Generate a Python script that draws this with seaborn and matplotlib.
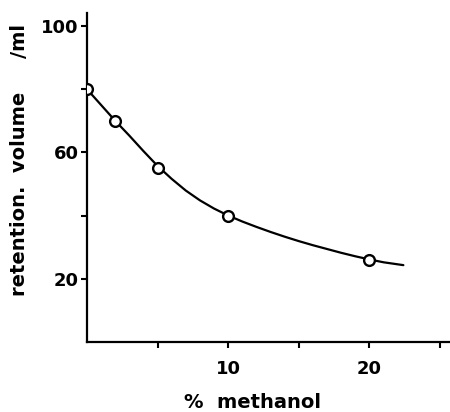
import matplotlib
matplotlib.use("Agg")
import matplotlib.pyplot as plt
import seaborn as sns
import pandas as pd

# measured points
methanol_pct = [0, 2, 5, 10, 20]
retention_ml = [80, 70, 55, 40, 26]

# fitted curve
curve_x = [0, 1, 2, 3, 4, 5, 6, 7, 8, 9, 10, 11, 12, 13, 14, 15, 16, 17, 18, 19, 20, 21, 22.4]
curve_y = [80, 75, 70, 65.3, 60.4, 55.7, 51.6, 47.9, 44.8, 42.2, 40, 38.1, 36.4, 34.8, 33.3,
           31.9, 30.6, 29.4, 28.2, 27.1, 26.1, 25.2, 24.3]

x_ticks = [5, 10, 15, 20, 25]
x_ticklabels = ["", "10", "", "20", ""]
y_ticks = [20, 40, 60, 80, 100]
y_ticklabels = ["20", "", "60", "", "100"]

sns.set_style("ticks")
plt.rcParams["font.family"] = ["DejaVu Sans"]

fig = plt.figure(figsize=(4.5, 4.12), dpi=100)
ax = fig.add_axes([0.193, 0.170, 0.807, 0.798])

pts = pd.DataFrame({"x": methanol_pct, "y": retention_ml})
crv = pd.DataFrame({"x": curve_x, "y": curve_y})

sns.lineplot(data=crv, x="x", y="y", ax=ax, color="black", linewidth=1.6, estimator=None, sort=True)
sns.scatterplot(data=pts, x="x", y="y", ax=ax, marker="o", s=60, facecolor="white",
                edgecolor="black", linewidth=1.7, zorder=3)

ax.set_xlim(0, 25.7)
ax.set_ylim(0, 104)
ax.set_xticks(x_ticks)
ax.set_xticklabels(x_ticklabels)
ax.set_yticks(y_ticks)
ax.set_yticklabels(y_ticklabels)
ax.tick_params(axis="both", direction="out", length=4, width=1.5, labelsize=13, pad=2,
               colors="black")
for lab in ax.get_xticklabels() + ax.get_yticklabels():
    lab.set_fontweight("bold")
ax.tick_params(axis="x", pad=9)

for s in ["top", "right"]:
    ax.spines[s].set_visible(False)
for s in ["left", "bottom"]:
    ax.spines[s].set_linewidth(1.6)
    ax.spines[s].set_color("black")

ax.set_xlabel("%  methanol", fontsize=14, fontweight="bold", color="black", va="center")
ax.xaxis.set_label_coords(0.455, -0.183)
ax.set_ylabel("retention.  volume     /ml", fontsize=14, fontweight="bold", color="black", va="center")
ax.yaxis.set_label_coords(-0.185, 0.553)

fig.savefig("out.png", dpi=100)
